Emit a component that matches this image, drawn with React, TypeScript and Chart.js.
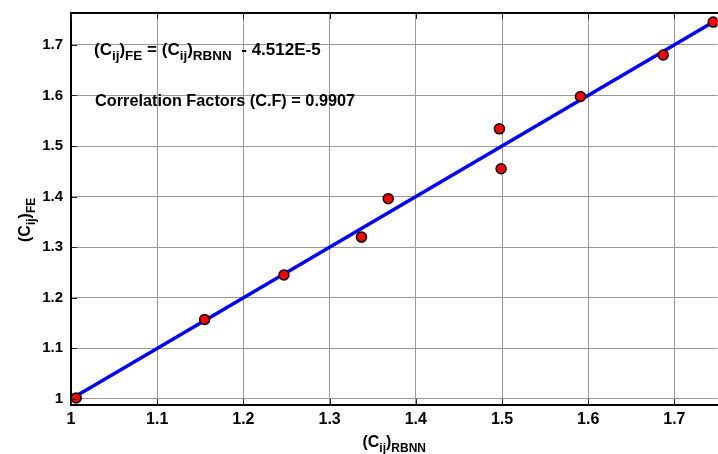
import React, { useEffect, useRef } from "react";
import { Chart, registerables } from "chart.js";

Chart.register(...registerables);

// ---- data ----
const rbnnValues = [1.006, 1.155, 1.247, 1.337, 1.368, 1.497, 1.499, 1.591, 1.687, 1.745];
const feValues = [1.002, 1.157, 1.245, 1.32, 1.396, 1.534, 1.455, 1.598, 1.68, 1.745];
const fitRange = [1.0, 1.75];
const fitOffset = -4.512e-5;
const xTickValues = [1, 1.1, 1.2, 1.3, 1.4, 1.5, 1.6, 1.7];
const yTickValues = [1, 1.1, 1.2, 1.3, 1.4, 1.5, 1.6, 1.7];
const xRange = [1.0, 1.75];
const yRange = [0.988, 1.763];
const correlationText = "Correlation Factors (C.F) = 0.9907";
const equationParts = [
  { t: "(C" }, { t: "ij", sub: true }, { t: ")" }, { t: "FE", sub: true },
  { t: " = (C" }, { t: "ij", sub: true }, { t: ")" }, { t: "RBNN", sub: true },
  { t: "  - 4.512E-5" },
];
const xTitleParts = [{ t: "(C" }, { t: "ij", sub: true }, { t: ")" }, { t: "RBNN", sub: true }];
const yTitleParts = [{ t: "(C" }, { t: "ij", sub: true }, { t: ")" }, { t: "FE", sub: true }];

const FONT = "'Liberation Sans', Arial, sans-serif";

type Part = { t: string; sub?: boolean };

function richWidth(ctx: CanvasRenderingContext2D, parts: Part[], main: number, sub: number) {
  let w = 0;
  for (const p of parts) {
    ctx.font = `bold ${p.sub ? sub : main}px ${FONT}`;
    w += ctx.measureText(p.t).width;
  }
  return w;
}

function drawRich(
  ctx: CanvasRenderingContext2D,
  parts: Part[],
  x: number,
  y: number,
  main: number,
  sub: number
) {
  ctx.textBaseline = "alphabetic";
  ctx.textAlign = "left";
  ctx.fillStyle = "#000";
  let cx = x;
  for (const p of parts) {
    ctx.font = `bold ${p.sub ? sub : main}px ${FONT}`;
    ctx.fillText(p.t, cx, p.sub ? y + 5 : y);
    cx += ctx.measureText(p.t).width;
  }
}

const decorPlugin = {
  id: "decor",
  afterDraw(chart: any) {
    const ctx: CanvasRenderingContext2D = chart.ctx;
    const { left, right, top, bottom } = chart.chartArea;
    const xs = chart.scales.x;
    const ys = chart.scales.y;
    ctx.save();
    // top border
    ctx.strokeStyle = "#000";
    ctx.lineWidth = 2;
    ctx.beginPath();
    ctx.moveTo(left - 1, top);
    ctx.lineTo(right + 1, top);
    ctx.stroke();
    // inner ticks
    ctx.lineWidth = 1;
    ctx.strokeStyle = "#222";
    ctx.beginPath();
    for (const v of xTickValues) {
      const px = Math.round(xs.getPixelForValue(v)) + 0.5;
      ctx.moveTo(px, bottom);
      ctx.lineTo(px, bottom - 6);
      ctx.moveTo(px, top);
      ctx.lineTo(px, top + 6);
    }
    for (const v of yTickValues) {
      const py = Math.round(ys.getPixelForValue(v)) + 0.5;
      ctx.moveTo(left, py);
      ctx.lineTo(left + 6, py);
    }
    ctx.stroke();
    // annotations
    drawRich(ctx, equationParts, left + 23, top + 42, 17, 13.5);
    ctx.font = `bold 16.3px ${FONT}`;
    ctx.fillText(correlationText, left + 24, top + 93);
    // x title
    const xw = richWidth(ctx, xTitleParts, 16, 12);
    drawRich(ctx, xTitleParts, (left + right) / 2 - xw / 2, 447, 16, 12);
    // y title
    ctx.translate(30, 242);
    ctx.rotate(-Math.PI / 2);
    drawRich(ctx, yTitleParts, 0, 0, 16, 12);
    ctx.restore();
  },
};

export default function App() {
  const ref = useRef<HTMLCanvasElement | null>(null);
  useEffect(() => {
    if (!ref.current) return;
    const scatterData = rbnnValues.map((x, i) => ({ x, y: feValues[i] }));
    const fitData = fitRange.map((x) => ({ x, y: x + fitOffset }));
    const chart = new Chart(ref.current, {
      type: "scatter",
      data: {
        datasets: [
          {
            label: "FE vs RBNN",
            data: scatterData,
            backgroundColor: "#ff0000",
            borderColor: "#000",
            borderWidth: 1.5,
            pointRadius: 5,
          },
          {
            label: "fit",
            type: "line",
            data: fitData,
            borderColor: "#0000ff",
            borderWidth: 3.5,
            pointRadius: 0,
            showLine: true,
          } as any,
        ],
      },
      options: {
        responsive: false,
        animation: false,
        devicePixelRatio: 1,
        layout: { padding: { top: 13, right: 1, left: 0, bottom: 0 } },
        plugins: { legend: { display: false }, tooltip: { enabled: false } },
        scales: {
          x: {
            type: "linear",
            min: xRange[0],
            max: xRange[1],
            afterBuildTicks: (s: any) => {
              s.ticks = xTickValues.map((value) => ({ value }));
            },
            afterFit: (s: any) => {
              s.height = 49;
              s.paddingLeft = 0;
              s.paddingRight = 0;
            },
            grid: { color: "#999999", lineWidth: 1, drawTicks: false },
            border: { color: "#000", width: 2 },
            ticks: {
              padding: 5,
              color: "#000",
              font: { family: FONT, size: 16, weight: "bold" },
              callback: (v: any) => String(Math.round(v * 10) / 10),
              maxRotation: 0,
            },
          },
          y: {
            type: "linear",
            min: yRange[0],
            max: yRange[1],
            afterBuildTicks: (s: any) => {
              s.ticks = yTickValues.map((value) => ({ value }));
            },
            afterFit: (s: any) => {
              s.width = 71;
              s.paddingTop = 0;
              s.paddingBottom = 0;
            },
            grid: { color: "#999999", lineWidth: 1, drawTicks: false },
            border: { color: "#000", width: 2 },
            ticks: {
              padding: 8,
              color: "#000",
              font: { family: FONT, size: 15, weight: "bold" },
              callback: (v: any) => String(Math.round(v * 10) / 10),
            },
          },
        },
      },
      plugins: [decorPlugin],
    });
    return () => chart.destroy();
  }, []);
  return (
    <div
      style={{
        position: "fixed",
        left: 0,
        top: 0,
        width: 718,
        height: 454,
        overflow: "hidden",
        background: "#fff",
      }}
    >
      <canvas ref={ref} width={724} height={454} style={{ width: 724, height: 454, display: "block" }} />
    </div>
  );
}
